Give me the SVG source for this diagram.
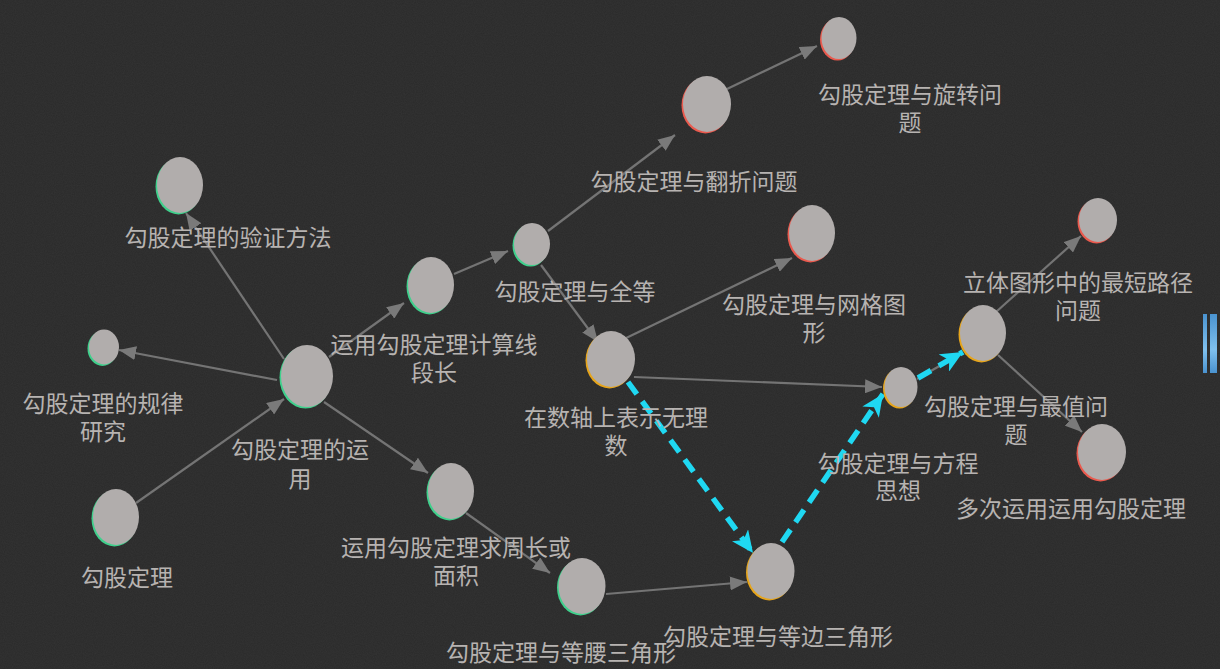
<svg xmlns="http://www.w3.org/2000/svg" width="1220" height="669" viewBox="0 0 1220 669">
<style>
.lbl{font-family:"Liberation Sans","Noto Sans CJK SC",sans-serif;font-size:23px;fill:#b7b3b1;text-anchor:middle}
.n{fill:#b1adac}
.g{fill:#3fd08c}
.o{fill:#e6a51c}
.r{fill:#ea5a4e}
.e{stroke:#747474;stroke-width:2.2;fill:none;marker-end:url(#ah)}
.d{stroke:#1fd8f2;stroke-width:5.5;fill:none;stroke-dasharray:15 9;marker-end:url(#ac)}
</style>
<defs>
<marker id="ah" markerUnits="userSpaceOnUse" markerWidth="18" markerHeight="14" refX="17" refY="7" orient="auto">
<path d="M0,0 L17,7 L0,14 z" fill="#7a7a7a"/>
</marker>
<marker id="ac" markerUnits="userSpaceOnUse" markerWidth="24" markerHeight="20" refX="22" refY="10" orient="auto">
<path d="M0,0 L22,10 L0,20 L6,10 z" fill="#1fd8f2"/>
</marker>
<filter id="noise" x="0" y="0" width="100%" height="100%">
<feTurbulence type="fractalNoise" baseFrequency="0.9" numOctaves="2" seed="3" result="t"/>
<feColorMatrix type="matrix" values="0 0 0 0 0.2  0 0 0 0 0.2  0 0 0 0 0.2  0 0 0 0.25 0"/>
</filter>
<linearGradient id="bar" x1="0" y1="0" x2="0" y2="1">
<stop offset="0" stop-color="#4a93d0"/>
<stop offset="0.6" stop-color="#7fc0ee"/>
<stop offset="1" stop-color="#4a93d0"/>
</linearGradient>
</defs>
<rect width="1220" height="669" fill="#2a2a2a"/>
<rect width="1220" height="669" filter="url(#noise)" opacity="0.5"/>
<g id="bars">
<rect x="1203" y="314" width="4" height="59" fill="url(#bar)"/>
<rect x="1210" y="314" width="7" height="59" fill="url(#bar)"/>
</g>
<g id="connectors">
<path class="e" d="M136,503 L284,399"/>
<path class="e" d="M284,359 L186,213"/>
<path class="e" d="M277,380 L119,350"/>
<path class="e" d="M329,357 L404,303"/>
<path class="e" d="M454,274 L508,251"/>
<path class="e" d="M548,231 L675,135"/>
<path class="e" d="M727,89 L817,46"/>
<path class="e" d="M541,265 L598,342"/>
<path class="e" d="M622,340 L792,258"/>
<path class="e" d="M634,377 L882,387"/>
<path class="e" d="M324,402 L428,473"/>
<path class="e" d="M466,513 L550,573"/>
<path class="e" d="M606,594 L747,582"/>
<path class="e" d="M996,312 L1081,236"/>
<path class="e" d="M998,355 L1082,432"/>
<path d="M917,379 L955,357" stroke="#747474" stroke-width="2.2"/>
<path class="d" d="M628,382 L753,553"/>
<path class="d" d="M782,542 L883,394"/>
<path class="d" d="M918,378 L963,352"/>
</g>
<g id="n-yanzheng">
<ellipse class="g" cx="178.5" cy="186.5" rx="23" ry="28"/>
<ellipse class="n" cx="180" cy="185" rx="23" ry="28"/>
<text class="lbl" x="228" y="246">勾股定理的验证方法</text>
</g>
<g id="n-guilv">
<ellipse class="g" cx="102.5" cy="348.5" rx="15" ry="17.5"/>
<ellipse class="n" cx="104" cy="347" rx="15" ry="17.5"/>
<text class="lbl" x="103" y="412">勾股定理的规律</text>
<text class="lbl" x="103" y="440">研究</text>
</g>
<g id="n-yunyong">
<ellipse class="g" cx="305.5" cy="377.5" rx="26" ry="31"/>
<ellipse class="n" cx="307" cy="376" rx="26" ry="31"/>
<text class="lbl" x="300" y="458">勾股定理的运</text>
<text class="lbl" x="300" y="487">用</text>
</g>
<g id="n-gougu">
<ellipse class="g" cx="114.5" cy="518.5" rx="23" ry="28"/>
<ellipse class="n" cx="116" cy="517" rx="23" ry="28"/>
<text class="lbl" x="127" y="586">勾股定理</text>
</g>
<g id="n-xianduan">
<ellipse class="g" cx="429.5" cy="286.5" rx="23" ry="28"/>
<ellipse class="n" cx="431" cy="285" rx="23" ry="28"/>
<text class="lbl" x="434" y="353">运用勾股定理计算线</text>
<text class="lbl" x="434" y="381">段长</text>
</g>
<g id="n-quandeng">
<ellipse class="g" cx="530.5" cy="245.5" rx="18" ry="21"/>
<ellipse class="n" cx="532" cy="244" rx="18" ry="21"/>
<text class="lbl" x="575" y="300">勾股定理与全等</text>
</g>
<g id="n-shuzhou">
<ellipse class="o" cx="609.5" cy="360.5" rx="24" ry="28"/>
<ellipse class="n" cx="611" cy="359" rx="24" ry="28"/>
<text class="lbl" x="616" y="426">在数轴上表示无理</text>
<text class="lbl" x="616" y="454">数</text>
</g>
<g id="n-fanzhe">
<ellipse class="r" cx="705.5" cy="105.5" rx="24" ry="28"/>
<ellipse class="n" cx="707" cy="104" rx="24" ry="28"/>
<text class="lbl" x="694" y="190">勾股定理与翻折问题</text>
</g>
<g id="n-xuanzhuan">
<ellipse class="r" cx="837.5" cy="39.5" rx="17.5" ry="21"/>
<ellipse class="n" cx="839" cy="38" rx="17.5" ry="21"/>
<text class="lbl" x="910" y="103">勾股定理与旋转问</text>
<text class="lbl" x="910" y="131">题</text>
</g>
<g id="n-wangge">
<ellipse class="r" cx="810.5" cy="234.5" rx="23" ry="28"/>
<ellipse class="n" cx="812" cy="233" rx="23" ry="28"/>
<text class="lbl" x="814" y="313">勾股定理与网格图</text>
<text class="lbl" x="814" y="341">形</text>
</g>
<g id="n-fangcheng">
<ellipse class="o" cx="899.5" cy="388.5" rx="16.5" ry="20"/>
<ellipse class="n" cx="901" cy="387" rx="16.5" ry="20"/>
<text class="lbl" x="898" y="472">勾股定理与方程</text>
<text class="lbl" x="898" y="499">思想</text>
</g>
<g id="n-zuizhi">
<ellipse class="o" cx="981.5" cy="334.5" rx="23" ry="28"/>
<ellipse class="n" cx="983" cy="333" rx="23" ry="28"/>
<text class="lbl" x="1016" y="415">勾股定理与最值问</text>
<text class="lbl" x="1016" y="443">题</text>
</g>
<g id="n-liti">
<ellipse class="r" cx="1096.5" cy="221.5" rx="19" ry="22"/>
<ellipse class="n" cx="1098" cy="220" rx="19" ry="22"/>
<text class="lbl" x="1078" y="291">立体图形中的最短路径</text>
<text class="lbl" x="1078" y="319">问题</text>
</g>
<g id="n-duoci">
<ellipse class="r" cx="1100.5" cy="453.5" rx="24" ry="28"/>
<ellipse class="n" cx="1102" cy="452" rx="24" ry="28"/>
<text class="lbl" x="1071" y="517">多次运用运用勾股定理</text>
</g>
<g id="n-zhouchang">
<ellipse class="g" cx="449.5" cy="492.5" rx="23" ry="28"/>
<ellipse class="n" cx="451" cy="491" rx="23" ry="28"/>
<text class="lbl" x="456" y="556">运用勾股定理求周长或</text>
<text class="lbl" x="456" y="584">面积</text>
</g>
<g id="n-dengyao">
<ellipse class="g" cx="580.5" cy="587.5" rx="23.5" ry="28"/>
<ellipse class="n" cx="582" cy="586" rx="23.5" ry="28"/>
<text class="lbl" x="561" y="661">勾股定理与等腰三角形</text>
</g>
<g id="n-dengbian">
<ellipse class="o" cx="769.5" cy="572.5" rx="23.5" ry="28"/>
<ellipse class="n" cx="771" cy="571" rx="23.5" ry="28"/>
<text class="lbl" x="778" y="645">勾股定理与等边三角形</text>
</g>
</svg>
